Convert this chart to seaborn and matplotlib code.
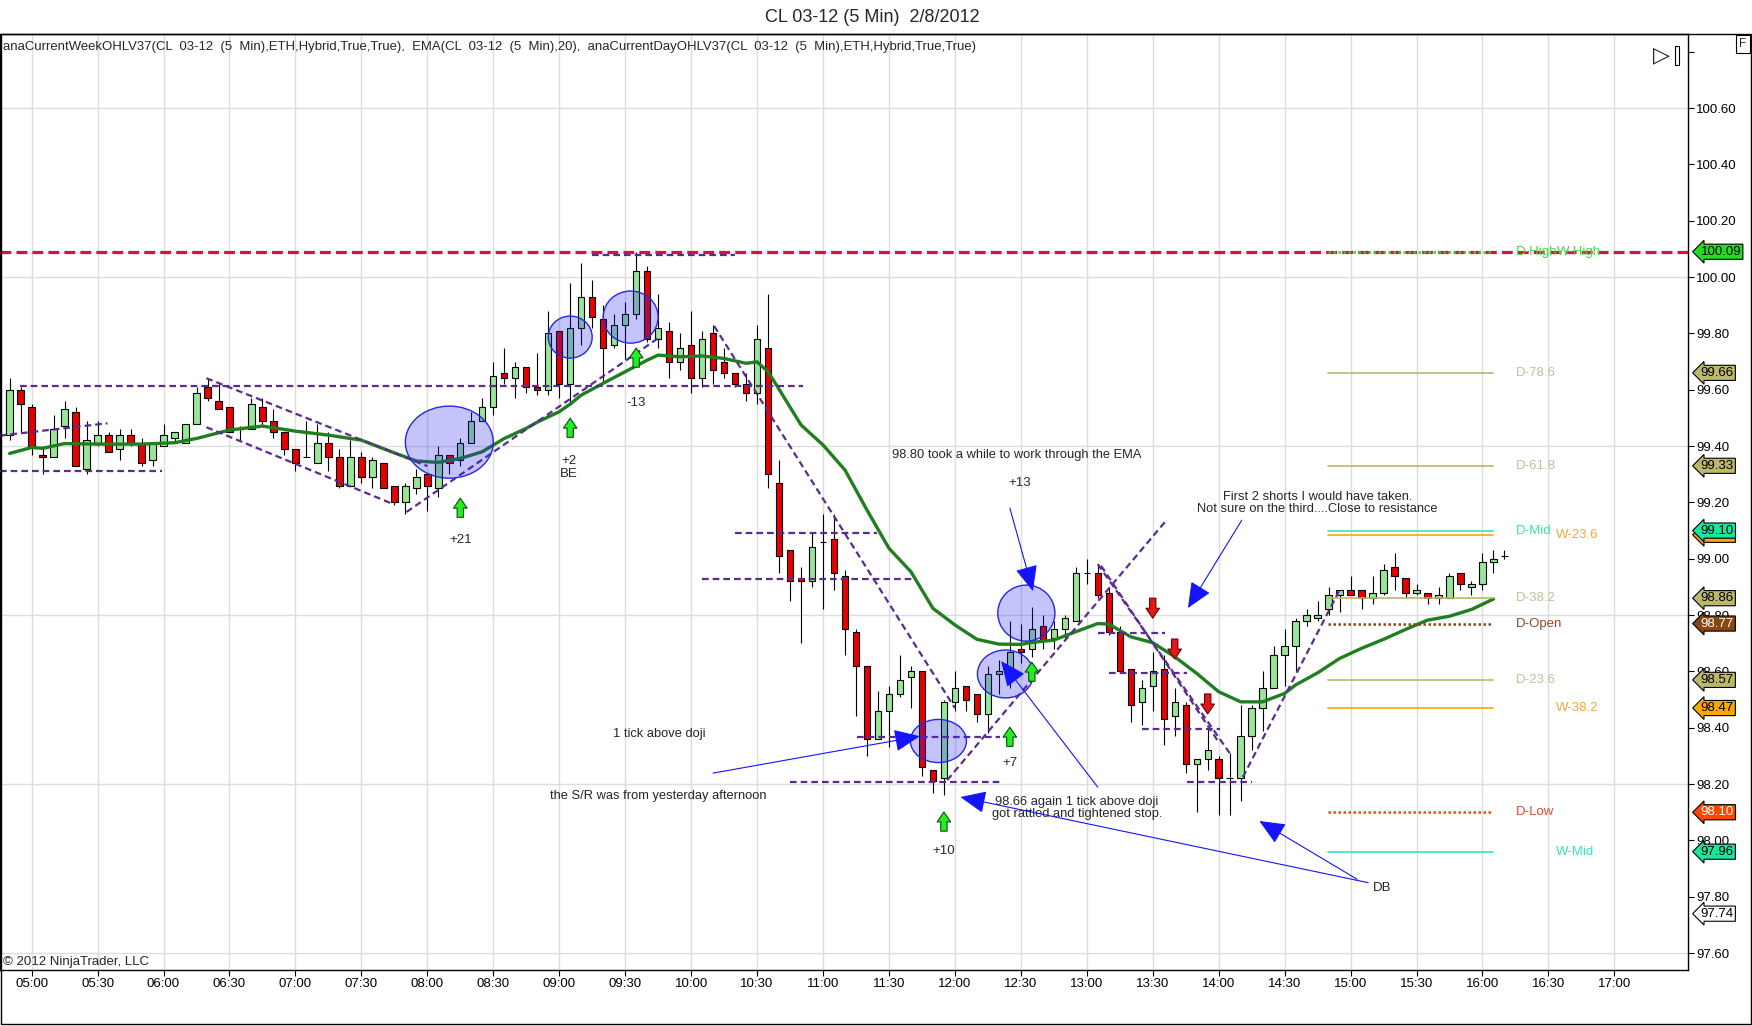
import numpy as np
import pandas as pd
import seaborn as sns
import matplotlib
matplotlib.use("Agg")
import matplotlib.pyplot as plt
from matplotlib.patches import Ellipse, Rectangle

# 5 min bars, x = bar number counted from 05:00 (bar -2 is 04:50)
first_bar = -2
opens = [99.44, 99.60, 99.54, 99.37, 99.36, 99.47, 99.52, 99.32, 99.41, 99.44,
         99.39, 99.44, 99.41, 99.35, 99.40, 99.43, 99.41, 99.48, 99.61, 99.56,
         99.54, 99.46, 99.46, 99.54, 99.49, 99.45, 99.39, 99.36, 99.34, 99.41,
         99.36, 99.26, 99.36, 99.29, 99.34, 99.26, 99.20, 99.25, 99.30, 99.25,
         99.37, 99.35, 99.41, 99.49, 99.54, 99.66, 99.64, 99.68, 99.61, 99.60,
         99.81, 99.62, 99.82, 99.93, 99.85, 99.76, 99.83, 99.87, 100.02, 99.78,
         99.81, 99.70, 99.76, 99.64, 99.80, 99.70, 99.66, 99.62, 99.59, 99.75,
         99.27, 99.03, 98.93, 98.92, 99.06, 99.07, 98.94, 98.74, 98.62, 98.36,
         98.46, 98.52, 98.58, 98.60, 98.25, 98.22, 98.49, 98.55, 98.52, 98.45,
         98.59, 98.60, 98.68, 98.68, 98.76, 98.72, 98.75, 98.78, 98.95, 98.95,
         98.88, 98.74, 98.61, 98.49, 98.55, 98.61, 98.44, 98.48, 98.27, 98.29,
         98.29, 98.22, 98.22, 98.37, 98.47, 98.54, 98.66, 98.69, 98.78, 98.79,
         98.82, 98.87, 98.89, 98.89, 98.86, 98.88, 98.97, 98.93, 98.88, 98.88,
         98.86, 98.86, 98.95, 98.90, 98.91, 98.99, 99.01]
highs = [99.64, 99.61, 99.55, 99.40, 99.51, 99.56, 99.54, 99.49, 99.49, 99.45,
         99.46, 99.46, 99.43, 99.41, 99.48, 99.45, 99.48, 99.61, 99.64, 99.62,
         99.54, 99.47, 99.57, 99.57, 99.53, 99.45, 99.39, 99.49, 99.48, 99.45,
         99.39, 99.42, 99.38, 99.36, 99.34, 99.26, 99.27, 99.32, 99.30, 99.40,
         99.37, 99.43, 99.52, 99.57, 99.70, 99.75, 99.70, 99.68, 99.73, 99.88,
         99.81, 99.98, 100.05, 99.99, 99.90, 99.87, 99.91, 100.09, 100.04, 99.94,
         99.84, 99.80, 99.88, 99.81, 99.83, 99.75, 99.66, 99.66, 99.83, 99.94,
         99.35, 99.03, 98.97, 99.09, 99.16, 99.16, 98.96, 98.75, 98.62, 98.53,
         98.55, 98.66, 98.62, 98.60, 98.25, 98.50, 98.60, 98.55, 98.52, 98.62,
         98.64, 98.78, 98.77, 98.83, 98.80, 98.78, 98.80, 98.97, 99.00, 98.98,
         98.90, 98.76, 98.61, 98.57, 98.67, 98.66, 98.54, 98.49, 98.29, 98.40,
         98.30, 98.31, 98.48, 98.48, 98.60, 98.69, 98.75, 98.79, 98.82, 98.85,
         98.90, 98.89, 98.94, 98.89, 98.94, 98.98, 99.02, 98.93, 98.91, 98.88,
         98.90, 98.95, 98.95, 98.92, 99.02, 99.03, 99.03]
lows = [99.42, 99.45, 99.37, 99.30, 99.36, 99.43, 99.33, 99.30, 99.40, 99.38,
        99.35, 99.40, 99.33, 99.33, 99.40, 99.41, 99.41, 99.48, 99.56, 99.53,
        99.45, 99.42, 99.46, 99.47, 99.43, 99.37, 99.31, 99.36, 99.34, 99.31,
        99.25, 99.26, 99.27, 99.25, 99.25, 99.19, 99.16, 99.23, 99.17, 99.22,
        99.30, 99.33, 99.41, 99.49, 99.51, 99.62, 99.57, 99.59, 99.58, 99.58,
        99.57, 99.55, 99.76, 99.82, 99.62, 99.75, 99.71, 99.85, 99.77, 99.75,
        99.64, 99.67, 99.59, 99.61, 99.62, 99.64, 99.61, 99.56, 99.55, 99.25,
        98.95, 98.85, 98.70, 98.90, 98.82, 98.89, 98.66, 98.44, 98.30, 98.36,
        98.33, 98.51, 98.47, 98.23, 98.17, 98.16, 98.46, 98.46, 98.42, 98.38,
        98.52, 98.54, 98.63, 98.65, 98.68, 98.68, 98.72, 98.78, 98.91, 98.86,
        98.73, 98.60, 98.42, 98.41, 98.46, 98.34, 98.37, 98.24, 98.10, 98.25,
        98.09, 98.09, 98.14, 98.32, 98.39, 98.54, 98.55, 98.60, 98.76, 98.78,
        98.80, 98.81, 98.87, 98.82, 98.84, 98.87, 98.89, 98.86, 98.87, 98.84,
        98.84, 98.86, 98.89, 98.87, 98.89, 98.95, 99.00]
closes = [99.60, 99.55, 99.40, 99.36, 99.46, 99.53, 99.33, 99.42, 99.44, 99.38,
          99.44, 99.41, 99.34, 99.41, 99.44, 99.45, 99.48, 99.59, 99.57, 99.53,
          99.45, 99.46, 99.55, 99.49, 99.45, 99.39, 99.34, 99.36, 99.41, 99.36,
          99.26, 99.36, 99.29, 99.35, 99.25, 99.20, 99.26, 99.29, 99.26, 99.37,
          99.34, 99.41, 99.49, 99.54, 99.65, 99.64, 99.68, 99.61, 99.60, 99.80,
          99.62, 99.82, 99.93, 99.86, 99.75, 99.83, 99.87, 100.02, 99.78, 99.82,
          99.70, 99.75, 99.64, 99.78, 99.67, 99.66, 99.62, 99.59, 99.78, 99.30,
          99.01, 98.92, 98.92, 99.04, 99.06, 98.95, 98.75, 98.62, 98.36, 98.46,
          98.52, 98.57, 98.60, 98.26, 98.21, 98.49, 98.54, 98.50, 98.45, 98.59,
          98.60, 98.67, 98.67, 98.75, 98.71, 98.75, 98.79, 98.95, 98.95, 98.87,
          98.74, 98.60, 98.48, 98.54, 98.60, 98.43, 98.49, 98.27, 98.29, 98.32,
          98.22, 98.22, 98.37, 98.47, 98.54, 98.66, 98.69, 98.78, 98.80, 98.80,
          98.87, 98.89, 98.87, 98.86, 98.88, 98.96, 98.94, 98.88, 98.89, 98.86,
          98.87, 98.94, 98.91, 98.91, 98.99, 99.00, 99.01]

# EMA(20)
ema_bar = [-2, 0, 1, 3, 6, 10, 13, 15, 18, 21, 24, 27, 30, 33, 35, 37, 39, 41,
           43, 45, 46, 48, 49, 50, 52, 54, 56, 57, 59, 61, 63, 65, 66, 67, 68,
           70, 72, 74, 76, 78, 80, 82, 84, 86, 88, 90, 91, 93, 95, 97, 98, 100,
           102, 104, 106, 108, 110, 112, 114, 115, 117, 119, 121, 123, 125, 127,
           129, 131, 133]
ema_val = [99.374, 99.395, 99.392, 99.409, 99.407, 99.407, 99.412, 99.427, 99.457,
           99.471, 99.453, 99.439, 99.421, 99.376, 99.347, 99.342, 99.356, 99.380,
           99.427, 99.463, 99.485, 99.522, 99.549, 99.581, 99.623, 99.664, 99.705,
           99.723, 99.717, 99.720, 99.711, 99.694, 99.699, 99.664, 99.602, 99.475,
           99.404, 99.315, 99.173, 99.037, 98.954, 98.824, 98.765, 98.714, 98.697,
           98.696, 98.703, 98.711, 98.741, 98.770, 98.768, 98.723, 98.702, 98.652,
           98.593, 98.528, 98.492, 98.492, 98.522, 98.552, 98.595, 98.646, 98.682,
           98.714, 98.749, 98.782, 98.796, 98.820, 98.857]

# session / week levels drawn on the right
level_names = ["D-High", "D-78.6", "D-61.8", "D-Mid", "W-23.6", "D-38.2",
               "D-Open", "D-23.6", "W-38.2", "D-Low", "W-Mid"]
level_prices = [100.09, 99.66, 99.33, 99.10, 99.085, 98.86, 98.77, 98.57,
                98.47, 98.10, 97.96]
level_colors = ["#32cd32", "#bdb76b", "#bdb76b", "#3fe3a6", "#ffa500", "#bdb76b",
                "#8b4513", "#bdb76b", "#ffa500", "#ff4500", "#40e0c0"]
level_label_colors = ["#44dd44", "#c4bf98", "#c4bf98", "#3fe0aa", "#f7a640", "#c4bf98",
                      "#8b4a2b", "#c4bf98", "#f7a640", "#e04a2e", "#3fe0b8"]
level_dotted = [True, False, False, False, False, False, True, False, False, True, False]
week_high = 100.09

# price markers on the axis
marker_prices = [100.09, 99.66, 99.33, 99.085, 99.10, 98.86, 98.77, 98.57, 98.47,
                 98.10, 97.96, 97.74]
marker_bg = ["#1ee01e", "#bdb76b", "#bdb76b", "#ffa500", "#16e8a0", "#bdb76b",
             "#8b4513", "#bdb76b", "#ffa500", "#ff4500", "#16e8a0", "white"]
marker_fg = ["black", "black", "black", "black", "black", "black", "white",
             "black", "black", "white", "black", "black"]

# drawn trend / S-R lines (bar, price) -> (bar, price)
trend_lines = [
    (-1.1, 99.615, 70.2, 99.615), (-2.9, 99.313, 11.9, 99.313),
    (-2.9, 99.437, 6.9, 99.481), (15.9, 99.641, 36.0, 99.329),
    (15.9, 99.467, 32.9, 99.194), (34.1, 99.166, 57.0, 99.783),
    (51.0, 100.08, 64.0, 100.08), (62.1, 99.826, 84.0, 98.470),
    (64.0, 99.091, 76.9, 99.091), (61.0, 98.928, 80.1, 98.928),
    (75.1, 98.367, 88.1, 98.367), (69.0, 98.207, 88.1, 98.207),
    (83.3, 98.214, 103.1, 99.130), (97.0, 98.981, 109.0, 98.310),
    (97.3, 98.975, 107.9, 98.355), (97.0, 98.736, 103.1, 98.736),
    (98.0, 98.594, 105.1, 98.594), (101.0, 98.395, 108.1, 98.395),
    (105.1, 98.207, 111.0, 98.207), (110.2, 98.225, 119.0, 98.889),
]

# circled areas: centre bar, centre price, width (bars), height (price)
circles = [(38.0, 99.414, 8.0, 0.256), (49.0, 99.787, 4.0, 0.149),
           (54.5, 99.858, 5.0, 0.185), (82.5, 98.353, 5.1, 0.153),
           (88.6, 98.591, 5.1, 0.170), (90.5, 98.807, 5.2, 0.199)]

long_bars = [39, 49, 55, 83, 89, 91]
long_tops = [99.215, 99.499, 99.748, 98.101, 98.402, 98.633]
short_bars = [102, 104, 107]
short_tops = [98.860, 98.715, 98.520]

trade_labels = [("+21", 39.0, 99.066), ("+2\nBE", 48.9, 99.324), ("-13", 55.0, 99.553),
                ("+7", 89.0, 98.275), ("+10", 83.0, 97.962), ("+13", 89.9, 99.269),
                ("DB", 122.9, 97.831)]
notes = [("98.80 took a while to work through the EMA", 78.3, 99.368, "left"),
         ("First 2 shorts I would have taken.\nNot sure on the third....Close to resistance",
          117.0, 99.198, "center"),
         ("1 tick above doji", 57.1, 98.378, "center"),
         ("the S/R was from yesterday afternoon", 57.0, 98.157, "center"),
         ("98.66 again 1 tick above doji\ngot rattled and tightened stop.", 95.1, 98.115, "center")]
note_arrows = [(62.0, 98.239, 80.8, 98.370), (97.0, 98.189, 88.2, 98.637),
               (89.0, 99.180, 91.1, 98.885), (110.1, 99.137, 105.2, 98.825),
               (121.6, 97.850, 84.5, 98.154), (120.6, 97.862, 111.7, 98.069)]

sns.set_style("white")
plt.rcParams['font.family'] = ['Liberation Sans', 'DejaVu Sans']

W, H = 1752, 1026
fig = plt.figure(figsize=(W / 100, H / 100), dpi=100)
ax = fig.add_axes([0, 1 - 970 / H, 1688 / W, (970 - 34) / H])
ax.set_xlim(-2.88, 150.7)
ax.set_ylim(97.540, 100.863)

# grid
for g in [97.6, 98.2, 98.8, 99.4, 100.0, 100.6]:
    ax.axhline(g, color='#dddddd', lw=1, zorder=0)
xt = np.arange(0, 145, 6)
for t in xt:
    ax.axvline(t, color='#dddddd', lw=1, zorder=0)

# candles
bars = pd.DataFrame(dict(x=np.arange(first_bar, first_bar + len(opens)),
                         o=opens, h=highs, l=lows, c=closes))
up = bars.c >= bars.o
ax.vlines(bars.x, bars.l, bars.h, color='black', lw=0.8, zorder=3)
ax.bar(bars.x, (bars.c - bars.o).abs(), bottom=np.minimum(bars.o, bars.c), width=0.58,
       color=np.where(up, '#98e698', '#e80000'), edgecolor='black', linewidth=0.8, zorder=4)

# EMA
sns.lineplot(x=ema_bar, y=ema_val, ax=ax, color='#1f7f1f', lw=2.4, zorder=5, legend=False)

# weekly high across the chart
ax.axhline(week_high, color='#d4143f', lw=2.3, dashes=(3.4, 1.6), zorder=5)

# levels on the right
for name, p, c, lc, dot in zip(level_names, level_prices, level_colors,
                               level_label_colors, level_dotted):
    if dot:
        ax.plot([117.95, 133.0], [p, p], color=c, lw=1.8, ls=(0, (1, 1)), zorder=5)
    else:
        ax.plot([117.95, 133.0], [p, p], color=c, lw=1.2, zorder=5)
    lx = 138.7 if name.startswith("W") else 135.05
    ax.text(lx, p, name, color=lc, fontsize=9.5, ha='left', va='center', zorder=6)
ax.text(138.75, week_high, "W-High", color='#44dd44', fontsize=9.5, ha='left',
        va='center', zorder=6)

# trend lines
for x0, y0, x1, y1 in trend_lines:
    ax.plot([x0, x1], [y0, y1], color='#5b2c8f', lw=1.6, dashes=(3.0, 1.8), zorder=6)

for cx, cy, w, h in circles:
    ax.add_patch(Ellipse((cx, cy), w, h, fc=(0.15, 0.15, 0.95, 0.27),
                         ec=(0.15, 0.15, 0.9, 1), lw=1, zorder=7))

for b, t in zip(long_bars, long_tops):
    ax.annotate('', xy=(b, t), xytext=(b, t - 0.068),
                arrowprops=dict(arrowstyle='simple,head_length=0.55,head_width=0.75,tail_width=0.35',
                                fc='#22ee22', ec='#0c4d0c', lw=0.8, mutation_scale=13,
                                shrinkA=0, shrinkB=0), zorder=8)
for b, t in zip(short_bars, short_tops):
    ax.annotate('', xy=(b, t - 0.071), xytext=(b, t),
                arrowprops=dict(arrowstyle='simple,head_length=0.55,head_width=0.75,tail_width=0.35',
                                fc='#e01818', ec='#6b0000', lw=0.8, mutation_scale=13,
                                shrinkA=0, shrinkB=0), zorder=8)

for s, x, y in trade_labels:
    ax.text(x, y, s, fontsize=9.5, ha='center', va='center', linespacing=1.05, zorder=8)
for s, x, y, ha in notes:
    ax.text(x, y, s, fontsize=9.3, ha=ha, va='center', linespacing=1.1, zorder=8)
for x0, y0, x1, y1 in note_arrows:
    ax.annotate('', xy=(x1, y1), xytext=(x0, y0),
                arrowprops=dict(arrowstyle='-|>,head_length=0.8,head_width=0.35',
                                color='#1414ff', lw=0.8, mutation_scale=20,
                                shrinkA=0, shrinkB=0), zorder=8)

# axes, ticks
ax.yaxis.tick_right()
yt = np.round(np.arange(97.6, 100.81, 0.2), 2)
ax.set_yticks(yt)
ax.set_yticklabels([f"{v:.2f}" if v < 100.7 else "" for v in yt])
ax.set_xticks(xt)
ax.set_xticklabels([f"{5 + i // 2:02d}:{'30' if i % 2 else '00'}" for i in range(len(xt))])
ax.tick_params(axis='both', direction='out', length=4.3, width=0.8, pad=1.5,
               labelsize=9.5, colors='black')
ax.tick_params(axis='y', right=True, left=False)
ax.tick_params(axis='x', bottom=True)
for sp in ax.spines.values():
    sp.set_visible(True)
    sp.set_color('black')
    sp.set_linewidth(1)

for p, bg, fg in zip(marker_prices, marker_bg, marker_fg):
    ax.text(1.0075, p, f"{p:.2f}", transform=ax.get_yaxis_transform(), fontsize=9.5,
            color=fg, ha='left', va='center', clip_on=False, zorder=10,
            bbox=dict(boxstyle='larrow,pad=0.12', fc=bg, ec='black', lw=0.8))

# header / footer texts
ax.text(0.002, 1 - 13 / 936,
        "anaCurrentWeekOHLV37(CL  03-12  (5  Min),ETH,Hybrid,True,True),  "
        "EMA(CL  03-12  (5  Min),20),  anaCurrentDayOHLV37(CL  03-12  (5  Min),ETH,Hybrid,True,True)",
        transform=ax.transAxes, fontsize=9.45, ha='left', va='center')
ax.text(0.002, 8 / 936, "© 2012 NinjaTrader, LLC", transform=ax.transAxes,
        fontsize=9.5, ha='left', va='center')
ax.text(1662 / 1688, 1 - 21 / 936, "▷", transform=ax.transAxes, fontsize=16,
        ha='center', va='center', family=['DejaVu Sans'])
ax.add_patch(Rectangle((1675 / 1688, 1 - 31 / 936), 4 / 1688, 19 / 936,
                       transform=ax.transAxes, fill=False, ec='black', lw=0.8))

fig.text(872 / W, 1 - 17 / H, "CL 03-12 (5 Min)  2/8/2012", ha='center', va='center',
         fontsize=13)
fig.text(1743 / W, 1 - 44 / H, "F", ha='center', va='center', fontsize=8.5,
         bbox=dict(boxstyle='square,pad=0.25', fc='white', ec='black', lw=0.8))
fig.patches.append(Rectangle((0.5 / W, 1 - 1024 / H), 1750.5 / W, (1024 - 34) / H,
                             transform=fig.transFigure, fill=False, ec='black', lw=1))

fig.savefig("out.png", dpi=100)
